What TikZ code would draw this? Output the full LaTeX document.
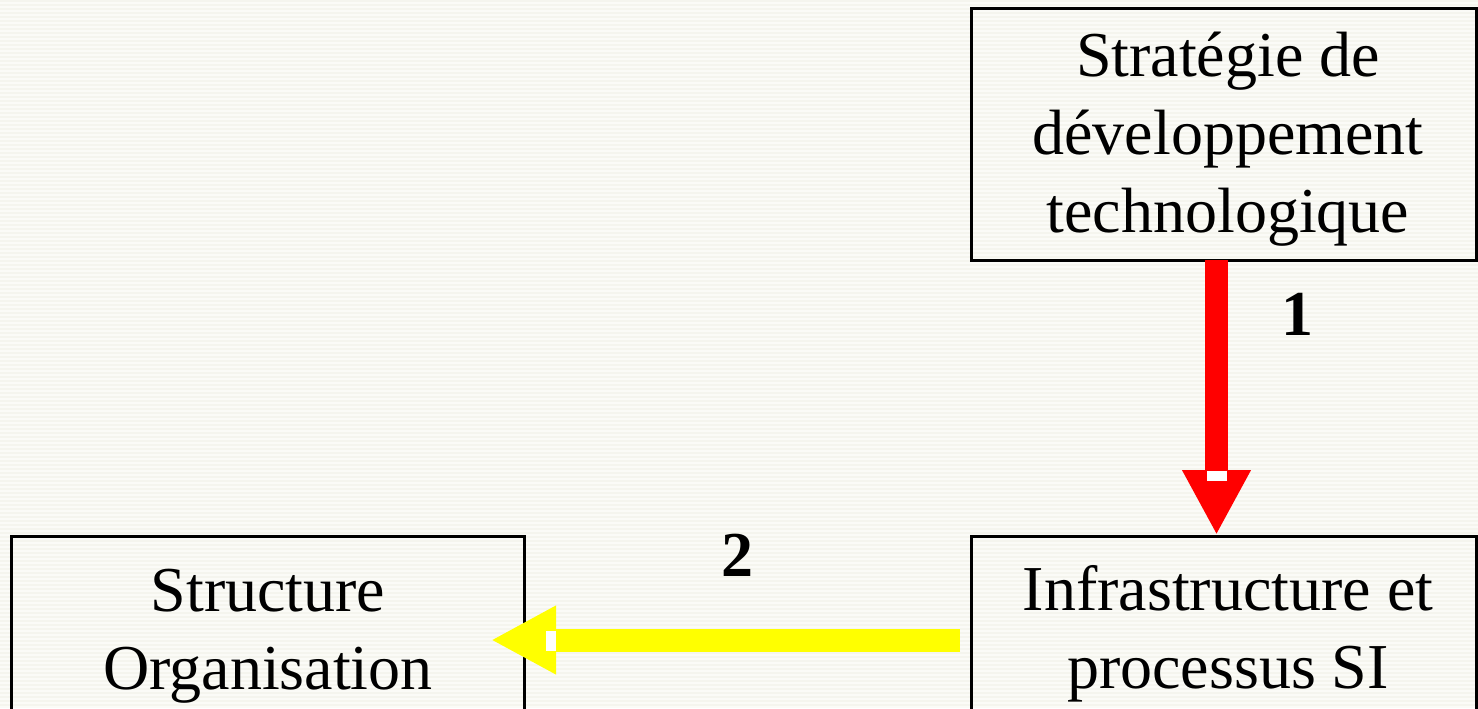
\documentclass[tikz,border=0pt]{standalone}
\usepackage{fontspec}
\setmainfont{Liberation Serif}
\usetikzlibrary{arrows.meta}
\definecolor{bgcol}{RGB}{251,251,247}
\definecolor{stripecol}{RGB}{245,245,238}
\definecolor{arrred}{RGB}{255,0,0}
\definecolor{arryellow}{RGB}{255,255,0}
\begin{document}
\begin{tikzpicture}[x=0.5pt,y=-0.5pt,
  box/.style={draw=black,line width=1.5pt,rectangle,inner sep=0pt,outer sep=0pt,anchor=north west},
  boxtext/.style={font=\fontsize{32}{39}\selectfont,align=center,anchor=base,inner sep=0pt},
  num/.style={font=\fontsize{32}{38}\selectfont\bfseries,anchor=base,inner sep=0pt},
  redarrow/.style={draw=arrred,line width=11.5pt,-{Triangle[width=32pt,length=32.5pt,fill=arrred]}},
  yelarrow/.style={draw=arryellow,line width=11.5pt,-{Triangle[width=32pt,length=32.5pt,fill=arryellow]}},
  gapmark/.style={fill=white,draw=none}]
\useasboundingbox (0,0) rectangle (1478,708);
\clip (0,0) rectangle (1478,708);
\fill[bgcol] (0,0) rectangle (1478,708);
\foreach \yy in {1,5,...,708} \draw[stripecol,line width=0.6pt] (0,\yy) -- (1478,\yy);

% boxes
\node[box,minimum width=252.5pt,minimum height=126pt] (strat) at (971,8) {};
\node[box,minimum width=252.5pt,minimum height=104pt] (infra) at (971,536) {};
\node[box,minimum width=256.5pt,minimum height=104pt] (struct) at (11,536) {};

% texts (anchor = baseline of last line)
\node[boxtext] (stratT) at (1228,232) {Stratégie de\\développement\\technologique};
\node[boxtext] (infraT) at (1228,688) {Infrastructure et\\processus SI};
\node[boxtext] (structT) at (268,689) {Structure\\Organisation};

% arrows
\draw[redarrow] ([xshift=-3.5pt]strat.south) -- ([xshift=-3.5pt,yshift=0.5pt]infra.north);
\fill[gapmark] (1207,471) rectangle (1227,481);
\draw[yelarrow] ([xshift=-5.5pt]infra.west) -- ([xshift=-16.5pt]struct.east);
\fill[gapmark] (546,631) rectangle (556,651);

% labels
\node[num] (n1) at (1297,335) {1};
\node[num] (n2) at (737,576) {2};
\end{tikzpicture}
\end{document}
